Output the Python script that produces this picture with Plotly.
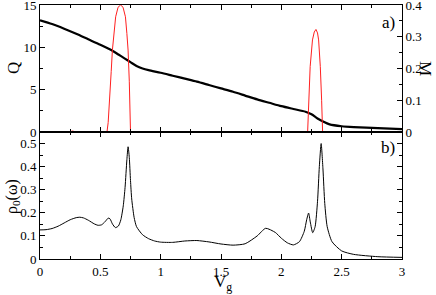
import plotly.graph_objects as go
from plotly.subplots import make_subplots

# Panel a: Q (left axis) and M (right axis) versus Vg
q_x = [0.0, 0.1, 0.2, 0.3, 0.4, 0.5, 0.6, 0.65, 0.7, 0.75, 0.8, 0.85, 0.9, 1.0, 1.1, 1.2,
       1.3, 1.4, 1.5, 1.6, 1.7, 1.8, 1.9, 2.0, 2.1, 2.2, 2.25, 2.3, 2.35, 2.4, 2.5, 2.6, 2.8, 3.0]
q_y = [13.2, 12.75, 12.2, 11.6, 10.95, 10.3, 9.6, 9.15, 8.7, 8.25, 7.8, 7.5, 7.3, 7.0, 6.65, 6.3,
       5.95, 5.55, 5.15, 4.75, 4.3, 3.85, 3.45, 3.05, 2.72, 2.4, 2.1, 1.6, 1.2, 0.9, 0.68, 0.58, 0.45, 0.35]

m_x = [0.0, 0.24, 0.27, 0.3, 0.55, 0.555, 0.565, 0.578, 0.59, 0.6, 0.615, 0.627, 0.647, 0.668,
       0.688, 0.708, 0.72, 0.73, 0.74, 0.745, 0.75, 2.218, 2.223, 2.228, 2.239, 2.258, 2.273,
       2.287, 2.3, 2.309, 2.323, 2.334, 2.339, 2.342, 3.0]
m_y = [0.0, 0.0, 0.003, 0.0, 0.0, 0.0, 0.03, 0.1, 0.19, 0.258, 0.32, 0.363, 0.393, 0.4,
       0.393, 0.363, 0.31, 0.258, 0.16, 0.1, 0.0, 0.0, 0.05, 0.1, 0.206, 0.29, 0.315,
       0.323, 0.312, 0.29, 0.206, 0.1, 0.05, 0.0, 0.0]

# Panel b: rho_0(omega) versus Vg
r_x = [0.0, 0.05, 0.1, 0.15, 0.2, 0.25, 0.3, 0.33, 0.36, 0.4, 0.45, 0.48, 0.51, 0.54, 0.565,
       0.58, 0.6, 0.625, 0.65, 0.67, 0.69, 0.705, 0.72, 0.73, 0.74, 0.75, 0.76, 0.78, 0.8, 0.85,
       0.9, 0.95, 1.0, 1.1, 1.2, 1.3, 1.4, 1.5, 1.6, 1.7, 1.8, 1.87, 1.95, 2.0, 2.05, 2.1, 2.15,
       2.19, 2.21, 2.226, 2.24, 2.26, 2.28, 2.3, 2.315, 2.33, 2.345, 2.36, 2.38, 2.42, 2.5, 2.6,
       2.8, 3.0]
r_y = [0.126, 0.127, 0.132, 0.142, 0.156, 0.17, 0.179, 0.181, 0.178, 0.168, 0.152, 0.146,
       0.148, 0.162, 0.177, 0.174, 0.152, 0.136, 0.143, 0.17, 0.23, 0.31, 0.43, 0.486, 0.44,
       0.34, 0.26, 0.18, 0.14, 0.105, 0.088, 0.078, 0.073, 0.072, 0.078, 0.08, 0.074, 0.065,
       0.06, 0.066, 0.1, 0.133, 0.115, 0.09, 0.07, 0.061, 0.075, 0.12, 0.17, 0.199, 0.16,
       0.114, 0.14, 0.25, 0.4, 0.5, 0.39, 0.24, 0.14, 0.075, 0.035, 0.02, 0.01, 0.007]

SERIF = "Liberation Serif"
W, H, L, R, T, B = 436, 295, 40, 34, 5, 36

fig = make_subplots(rows=2, cols=1, shared_xaxes=True, vertical_spacing=0,
                    specs=[[{"secondary_y": True}], [{}]])

fig.add_trace(go.Scatter(x=m_x, y=m_y, mode="lines", line=dict(color="#ff2020", width=1),
                         showlegend=False), row=1, col=1, secondary_y=True)
fig.add_trace(go.Scatter(x=q_x, y=q_y, mode="lines", line=dict(color="black", width=2.2, shape="spline", smoothing=0.7),
                         showlegend=False), row=1, col=1, secondary_y=False)
fig.add_trace(go.Scatter(x=r_x, y=r_y, mode="lines", line=dict(color="black", width=1, shape="spline", smoothing=0.6),
                         showlegend=False), row=2, col=1)

tickfont = dict(family=SERIF, size=13, color="black")
common = dict(showline=True, linecolor="black", linewidth=1, ticks="inside", ticklen=5,
              tickcolor="black", showgrid=False, zeroline=False, tickfont=tickfont,
              automargin=False, ticklabeloverflow="allow")
minor = lambda d: dict(ticks="inside", ticklen=3, dtick=d, tickcolor="black", showgrid=False)

fig.update_xaxes(range=[0, 3], dtick=0.5, mirror="ticks", minor=minor(0.25), domain=[0, 1], **common)
fig.update_xaxes(showticklabels=False, row=1, col=1)
fig.update_yaxes(range=[0, 15], dtick=5, minor=minor(2.5), mirror=False, row=1, col=1,
                 secondary_y=False, **common)
fig.update_yaxes(range=[0, 0.4], dtick=0.1, minor=minor(0.05), row=1, col=1,
                 secondary_y=True, **common)
fig.update_yaxes(range=[0, 0.55], dtick=0.1, minor=minor(0.05), mirror="ticks", row=2, col=1, **common)


def px(xp):
    return (xp - L) / (W - L - R)


def py(yp):
    return (H - B - yp) / (H - T - B)


def label(text, xp, yp, angle=0, size=17, yanchor="middle"):
    fig.add_annotation(text=text, x=px(xp), y=py(yp), xref="paper", yref="paper",
                       xanchor="center", yanchor=yanchor, showarrow=False, textangle=angle,
                       font=dict(family=SERIF, size=size, color="black"))


label("a)", 388, 23)
label("b)", 388, 147)
label("Q", 13, 68, angle=-90)
label("ρ<sub>0</sub>(ω)", 12, 197, angle=-90, size=16)
label("M", 426, 68, angle=90)
label("V<sub>g</sub>", 223, 270, yanchor="top")

fig.update_layout(width=W, height=H, margin=dict(l=L, r=R, t=T, b=B, autoexpand=False),
                  plot_bgcolor="white", paper_bgcolor="white", font=dict(family=SERIF))

fig.write_html("out.html", config={"displayModeBar": False},
               post_script="document.body.style.margin='0';")
